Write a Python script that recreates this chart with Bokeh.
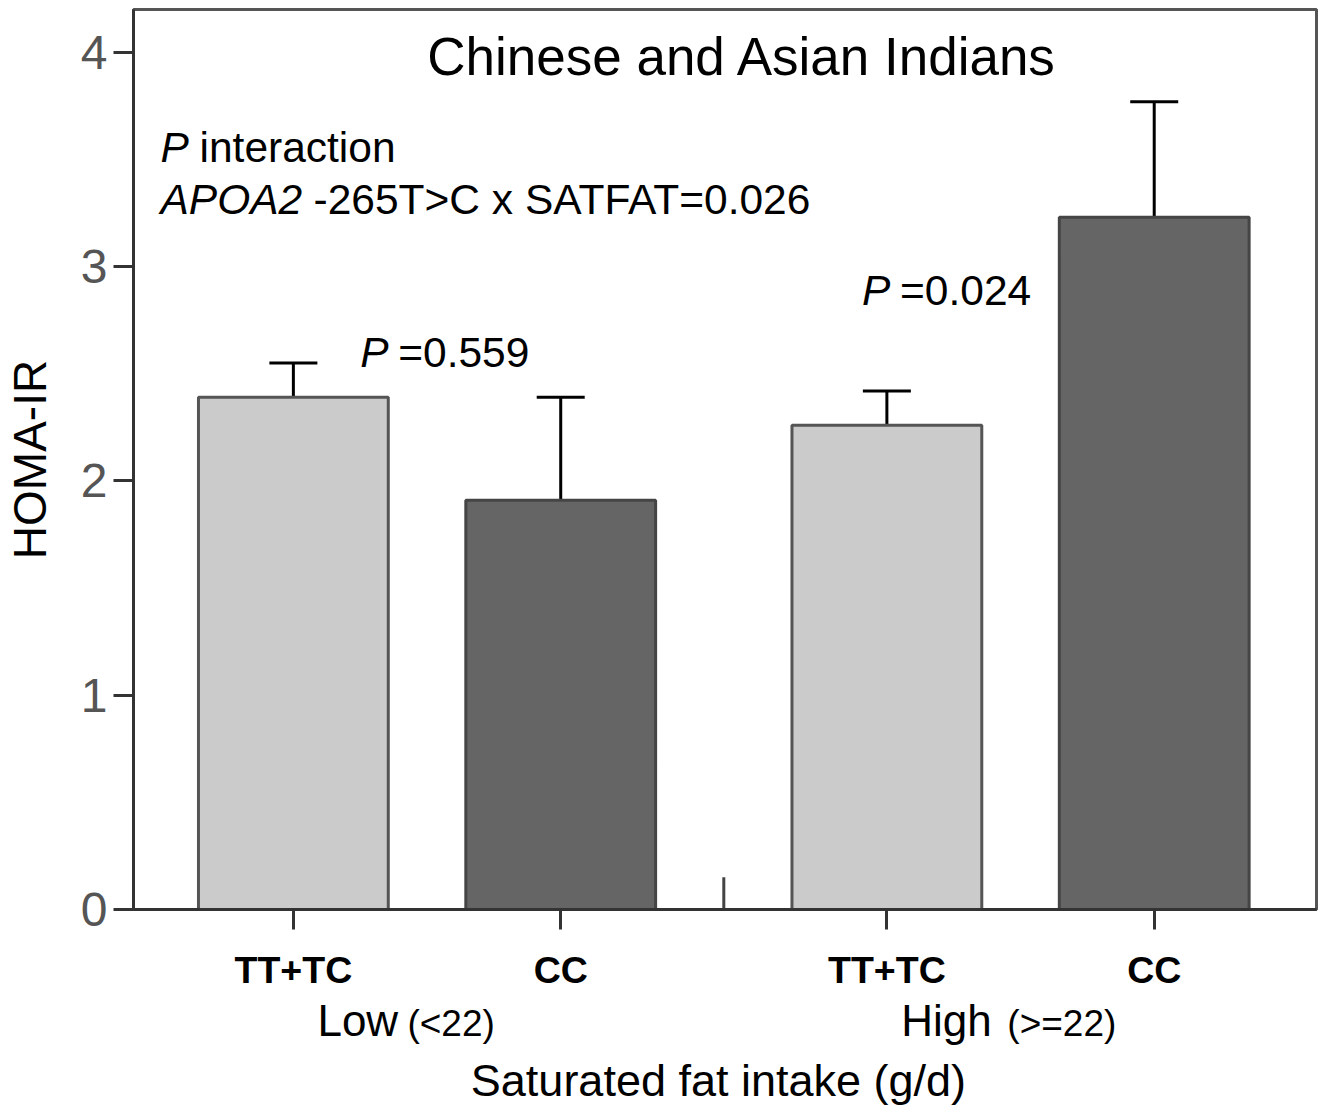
from bokeh.plotting import figure
from bokeh.layouts import column
from bokeh.models import Range1d, FixedTicker, Label, Whisker, TeeHead, ColumnDataSource
from bokeh.embed import file_html
from bokeh.resources import INLINE

# ---- data ----
groups = ["Low", "High"]
group_ranges = ["(<22)", "(>=22)"]
genotypes = ["TT+TC", "CC"]
homa_mean = [2.39, 1.91, 2.26, 3.23]
homa_upper = [2.55, 2.39, 2.42, 3.77]
p_group = ["0.559", "0.024"]
y_ticks = [0, 1, 2, 3, 4]
title_text = "Chinese and Asian Indians"
p_interaction = "0.026"
x_title = "Saturated fat intake (g/d)"
y_title = "HOMA-IR"

FONT = "Liberation Sans"
GAP = 0.22
xs = [round(gi * (len(genotypes) + GAP) + ki, 3) for gi in range(len(groups)) for ki in range(len(genotypes))]
labels = [g for _ in groups for g in genotypes]
fills = ["#cbcbcb", "#656565"] * len(groups)
outlines = ["#555555", "#454545"] * len(groups)

src = ColumnDataSource(dict(x=xs, top=homa_mean, upper=homa_upper, fill=fills, line=outlines))

W = 1322
H1 = 993
H2 = 112

p = figure(width=W, height=H1, x_range=Range1d(-0.598, 3.827), y_range=Range1d(0, 4.2),
           output_backend="svg", toolbar_location=None,
           min_border_left=130, min_border_right=6, min_border_top=9, min_border_bottom=82)
p.xgrid.visible = False
p.ygrid.visible = False
p.outline_line_color = "#555555"
p.outline_line_width = 3

p.vbar(x="x", top="top", bottom=0, width=0.71, fill_color="fill", line_color="line", line_width=3, source=src)
p.add_layout(Whisker(base="x", lower="top", upper="upper", source=src, line_width=3, line_color="black",
                     upper_head=TeeHead(size=48, line_width=3, line_color="black"), lower_head=None))

mid = (xs[1] + xs[2]) / 2
p.segment(x0=[mid], y0=[0], x1=[mid], y1=[0.15], line_width=3, line_color="#444444")

# axes
xa = p.xaxis[0]
xa.ticker = FixedTicker(ticks=xs)
xa.major_label_overrides = {x: lab for x, lab in zip(xs, labels)}
xa.axis_line_width = 3
xa.axis_line_color = "#333333"
xa.major_tick_out = 20
xa.major_tick_in = 0
xa.major_tick_line_width = 3
xa.major_tick_line_color = "#333333"
xa.minor_tick_out = 0
xa.major_label_text_font = FONT
xa.major_label_text_font_style = "bold"
xa.major_label_text_font_size = "37.5px"
xa.major_label_text_color = "black"
xa.major_label_standoff = 19

ya = p.yaxis[0]
ya.ticker = FixedTicker(ticks=y_ticks)
ya.axis_line_width = 3
ya.axis_line_color = "#333333"
ya.major_tick_out = 20
ya.major_tick_in = 0
ya.major_tick_line_width = 3
ya.major_tick_line_color = "#333333"
ya.minor_tick_out = 0
ya.major_label_text_font = FONT
ya.major_label_text_font_size = "48px"
ya.major_label_text_color = "#555555"
ya.major_label_standoff = 6
ya.axis_label = y_title
ya.axis_label_text_font = FONT
ya.axis_label_text_font_size = "46px"
ya.axis_label_text_font_style = "normal"
ya.axis_label_text_color = "black"
ya.axis_label_standoff = 22


def lab(fig, x, y, text, size, style="normal", align="left", x_offset=0):
    fig.add_layout(Label(x=x, y=y, text=text, text_font=FONT, text_font_size=size,
                         text_font_style=style, text_align=align, text_baseline="middle",
                         text_color="black", x_offset=x_offset))


# title and annotations inside the plot
lab(p, 1.68, 3.981, title_text, "53px", align="center")
lab(p, -0.497, 3.558, "P", "42.5px", "italic")
lab(p, -0.497, 3.558, "interaction", "42.5px", x_offset=39)
lab(p, -0.497, 3.315, "APOA2", "42.5px", "italic")
lab(p, -0.497, 3.315, "-265T>C x SATFAT=" + p_interaction, "42.5px", x_offset=153)

p_pos = [(0.25, 2.598), (2.127, 2.887)]
for (px_, py_), pv in zip(p_pos, p_group):
    lab(p, px_, py_, "P", "42.5px", "italic")
    lab(p, px_, py_, "=" + pv, "42.5px", x_offset=38)

# lower strip: group labels and x-axis title, sharing the x scale
p2 = figure(width=W, height=H2, x_range=p.x_range, y_range=Range1d(0, H2),
            x_axis_type=None, y_axis_type=None,
            output_backend="svg", toolbar_location=None,
            min_border_left=130, min_border_right=6, min_border_top=0, min_border_bottom=0)
p2.xgrid.visible = False
p2.ygrid.visible = False
p2.outline_line_color = None

grp_pos = [(0.09, 90), (2.274, 106)]
for (gx, off), g, r in zip(grp_pos, groups, group_ranges):
    lab(p2, gx, 85, g, "44px")
    lab(p2, gx, 82.5, r, "37px", x_offset=off)

lab(p2, 1.59, 25, x_title, "45px", align="center")

layout = column(p, p2, spacing=0)
open("out.html", "w").write(file_html(layout, INLINE))
